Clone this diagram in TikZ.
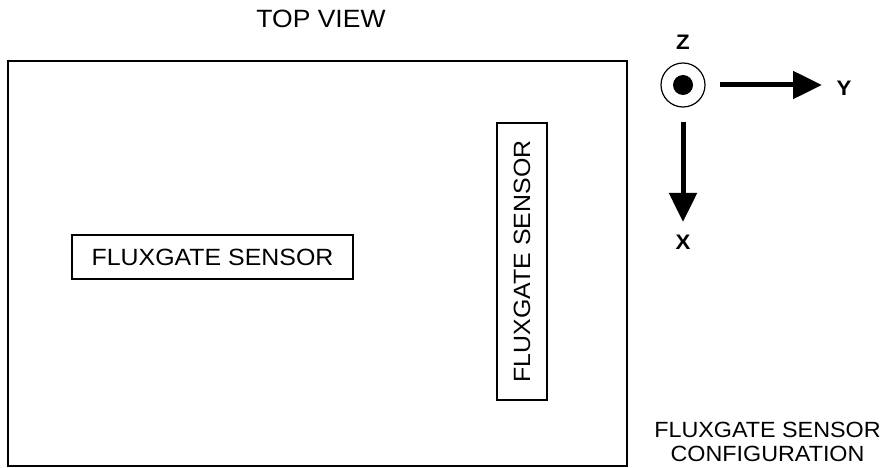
\documentclass[tikz,border=0pt]{standalone}
\usepackage{fontspec}
\setmainfont{Liberation Sans}[FakeStretch=1.06]
\usetikzlibrary{arrows.meta}

\begin{document}
\begin{tikzpicture}[
  x=1pt,y=-1pt,
  line width=1.2pt,
  every node/.style={font=\fontsize{23.5}{26}\selectfont},
  board/.style={rectangle,draw,minimum width=619pt,minimum height=405pt,inner sep=0pt},
  sensor/.style={rectangle,draw,minimum width=281pt,minimum height=44pt,inner sep=0pt},
  axis label/.style={font=\fontsize{21}{24}\selectfont\bfseries},
  axis arrow/.style={line width=5pt,-{Triangle[length=29pt,width=27pt]}},
]
\useasboundingbox (0,0) rectangle (884,468);
\node (title) at (321,19) {\fontsize{25}{28}\selectfont TOP VIEW};
\node[board] (board) at (317.5,263.5) {};
\node[sensor] (sensorx) at (212.5,257) {FLUXGATE SENSOR};
\node[sensor,minimum width=277pt,minimum height=50pt,rotate=90] (sensory) at (522,261.5) {FLUXGATE SENSOR};
% axes
\node[circle,draw,minimum size=44pt,inner sep=0pt] (zaxis) at (683,85) {};
\node[circle,fill,minimum size=20pt,inner sep=0pt] (zdot) at (zaxis) {};
\node[axis label] (zlabel) at (683,42) {Z};
\node[axis label] (ylabel) at (844,88) {Y};
\node[axis label] (xlabel) at (683,242) {X};
\coordinate (ystart) at (720,85);
\coordinate (ytip) at (822,85);
\coordinate (xstart) at (683,122);
\coordinate (xtip) at (683,222);
\draw[axis arrow] (ystart) -- (ytip);
\draw[axis arrow] (xstart) -- (xtip);
\node[align=center,font=\fontsize{22}{24}\selectfont] (caption) at (767.5,441.5) {FLUXGATE SENSOR\\CONFIGURATION};
\end{tikzpicture}
\end{document}
